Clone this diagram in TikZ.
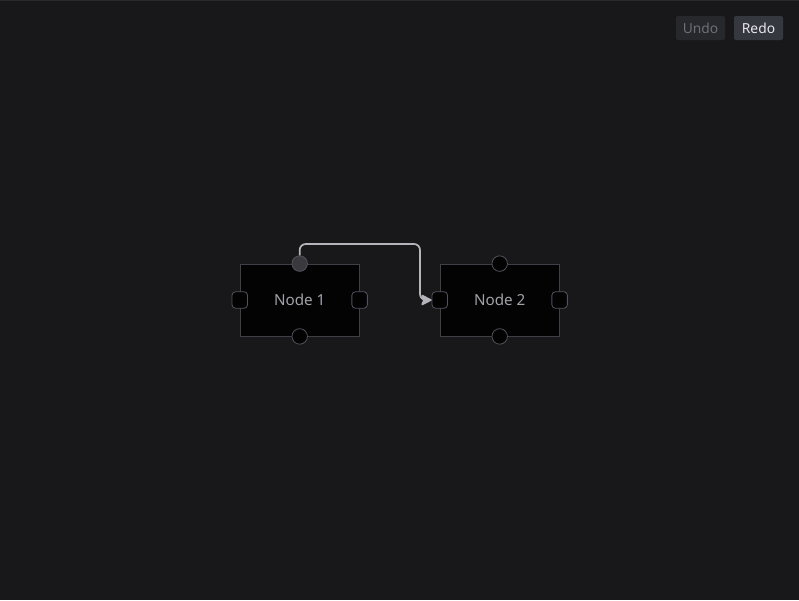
\documentclass[tikz,border=0pt]{standalone}
\usepackage{fontspec}
\setmainfont{Noto Sans}
\usetikzlibrary{arrows.meta}
\definecolor{bg}{HTML}{18181B}
\definecolor{topline}{HTML}{2A2A2E}
\definecolor{nodefill}{HTML}{030303}
\definecolor{nodeborder}{HTML}{3F3F46}
\definecolor{nodetext}{HTML}{A1A1AA}
\definecolor{handleborder}{HTML}{52525B}
\definecolor{activehandle}{HTML}{3A3A3E}
\definecolor{edgecol}{HTML}{B4B4BA}
\definecolor{undobg}{HTML}{27282C}
\definecolor{undotext}{HTML}{6E6E74}
\definecolor{redobg}{HTML}{363840}
\definecolor{redotext}{HTML}{E8E8EC}
\tikzset{
  box/.style={draw=nodeborder, fill=nodefill, line width=0.8pt, minimum width=119pt, minimum height=72pt, inner sep=0pt, text=nodetext, font=\fontsize{15.2}{17}\selectfont},
  hcirc/.style={circle, draw=handleborder, fill=nodefill, line width=0.8pt, minimum size=15.5pt, inner sep=0pt},
  hsq/.style={rectangle, rounded corners=3.5pt, draw=handleborder, fill=nodefill, line width=0.8pt, minimum width=15.5pt, minimum height=16.5pt, inner sep=0pt},
  edgeline/.style={draw=edgecol, line width=1.7pt, rounded corners=6pt, -{Stealth[length=12pt, width=12pt, inset=2.5pt, round]}},
  btn/.style={rounded corners=2pt, minimum width=49pt, minimum height=24pt, inner sep=0pt, font=\fontsize{13.8}{15}\selectfont}
}
\begin{document}
\begin{tikzpicture}[x=1pt,y=-1pt]
\fill[bg] (0,0) rectangle (799,600);
\useasboundingbox (0,0) rectangle (799,600);
\draw[topline, line width=1pt] (0,0.5) -- (799,0.5);
% nodes
\node[box] (n1) at (299.7,300) {Node 1};
\node[box] (n2) at (499.7,300) {Node 2};
% handles
\node[hcirc, fill=activehandle] (n1t) at (n1.north) {};
\node[hcirc] (n1b) at (n1.south) {};
\node[hsq] (n1l) at (n1.west) {};
\node[hsq] (n1r) at (n1.east) {};
\node[hcirc] (n2t) at (n2.north) {};
\node[hcirc] (n2b) at (n2.south) {};
\node[hsq] (n2l) at (n2.west) {};
\node[hsq] (n2r) at (n2.east) {};
% edge
\coordinate (c1) at (420,244);
\draw[edgeline] (n1t.north) |- (c1) |- (n2l.west);
% buttons
\node[btn, fill=undobg, text=undotext] (undo) at (700.5,28) {Undo};
\node[btn, fill=redobg, text=redotext] (redo) at (758.5,28) {Redo};
\end{tikzpicture}
\end{document}
